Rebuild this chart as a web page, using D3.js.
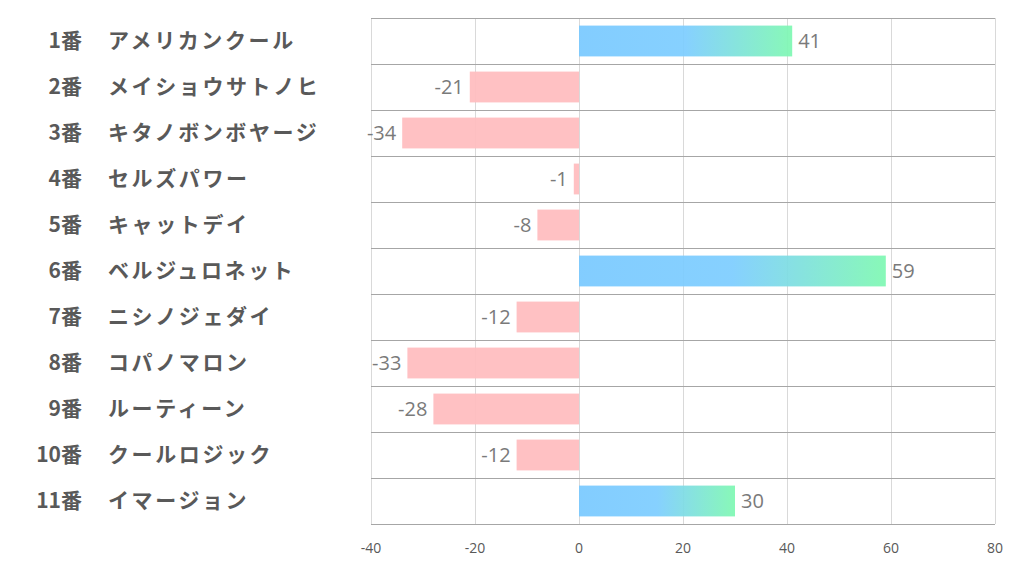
<!DOCTYPE html>
<html><head><meta charset="utf-8">
<script src="https://cdn.jsdelivr.net/npm/d3@7"></script>
<style>body{margin:0;background:#fff;}svg{display:block;}</style>
</head><body>
<svg id="c" width="1022" height="574"></svg>
<script>
const numbers = ["1番","2番","3番","4番","5番","6番","7番","8番","9番","10番","11番"];
const names = ["アメリカンクール","メイショウサトノヒ","キタノボンボヤージ","セルズパワー","キャットデイ","ベルジュロネット","ニシノジェダイ","コパノマロン","ルーティーン","クールロジック","イマージョン"];
const values = [41,-21,-34,-1,-8,59,-12,-33,-28,-12,30];
const ticks = [-40,-20,0,20,40,60,80];

(function(){
const svg = d3.select("#c");
const pL = 371, pR = 995, pT = 18, pB = 524;
const x = d3.scaleLinear().domain([-40,80]).range([pL,pR]);
const y = d3.scaleBand().domain(d3.range(values.length)).range([pT,pB]).paddingInner(0.33).paddingOuter(0.165);
const rowH = (pB-pT)/values.length;

const defs = svg.append("defs");
const g = defs.append("linearGradient").attr("id","pos").attr("x1","0").attr("x2","1").attr("y1","0").attr("y2","0");
g.append("stop").attr("offset","0").attr("stop-color","#79c9ff");
g.append("stop").attr("offset","0.5").attr("stop-color","#7dcdff");
g.append("stop").attr("offset","1").attr("stop-color","#7ff8b2");

svg.append("g").selectAll("line").data(ticks).join("line")
  .attr("x1",d=>x(d)).attr("x2",d=>x(d)).attr("y1",pT).attr("y2",pB)
  .attr("stroke","#d9d9d9").attr("stroke-width",1).attr("shape-rendering","crispEdges");
svg.append("g").selectAll("line").data(d3.range(values.length+1)).join("line")
  .attr("x1",pL).attr("x2",pR).attr("y1",i=>pT+i*rowH).attr("y2",i=>pT+i*rowH)
  .attr("stroke","#a6a6a6").attr("stroke-width",1).attr("shape-rendering","crispEdges");

svg.append("g").selectAll("rect").data(values).join("rect")
  .attr("x",d=>x(Math.min(0,d))).attr("width",d=>Math.abs(x(d)-x(0)))
  .attr("y",(d,i)=>y(i)).attr("height",y.bandwidth())
  .attr("fill",d=>d>=0?"url(#pos)":"#ffbcbe").attr("fill-opacity",0.93);

svg.append("g").selectAll("text").data(values).join("text")
  .attr("x",d=>d>=0?x(d)+6:x(d)-6)
  .attr("y",(d,i)=>y(i)+y.bandwidth()/2)
  .attr("dy","0.36em")
  .attr("text-anchor",d=>d>=0?"start":"end")
  .attr("font-family","'Open Sans', sans-serif").attr("font-size",20).attr("fill","#7a7a7a")
  .text(d=>d);

svg.append("g").selectAll("text").data(ticks).join("text")
  .attr("x",d=>x(d)).attr("y",553).attr("text-anchor","middle")
  .attr("font-family","'Open Sans', sans-serif").attr("font-size",14).attr("fill","#595959")
  .text(d=>d);

const lab = svg.append("g").attr("font-family","'Noto Sans CJK JP', sans-serif").attr("font-weight","bold").attr("font-size",21).attr("fill","#595959");
lab.selectAll("text.n").data(numbers).join("text").attr("class","n")
  .attr("x",82).attr("y",(d,i)=>pT+i*rowH+rowH/2).attr("dy","0.35em").attr("text-anchor","end").text(d=>d);
lab.selectAll("text.m").data(names).join("text").attr("class","m")
  .attr("x",108).attr("y",(d,i)=>pT+i*rowH+rowH/2).attr("dy","0.35em").attr("text-anchor","start")
  .attr("letter-spacing",2.6).text(d=>d);
})();
</script>
</body></html>
